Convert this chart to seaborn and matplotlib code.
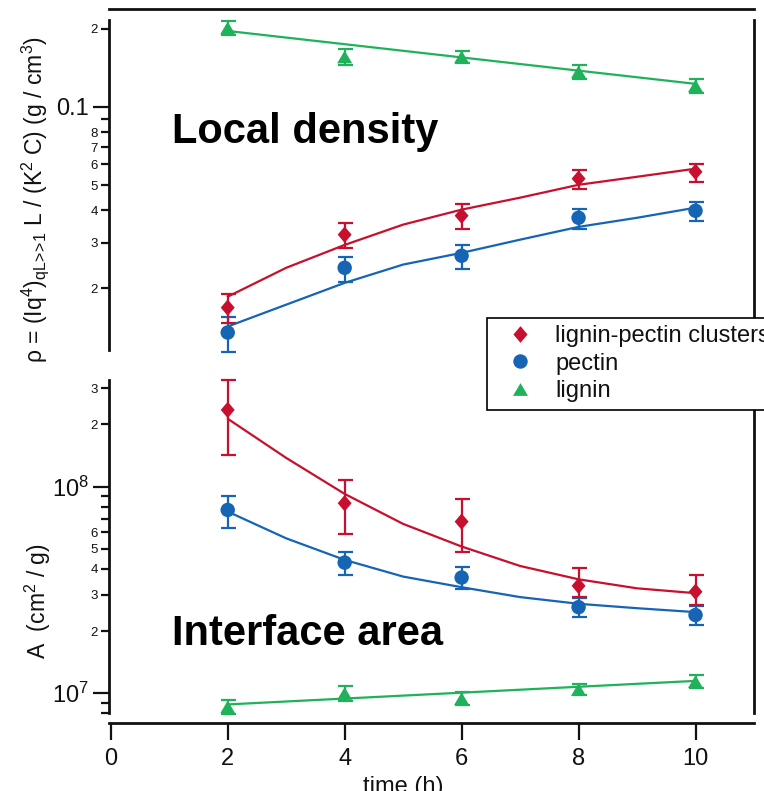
import numpy as np
import pandas as pd
import matplotlib
matplotlib.use("Agg")
import matplotlib.pyplot as plt
import seaborn as sns
from matplotlib.lines import Line2D
from matplotlib.ticker import FixedLocator, FixedFormatter, NullLocator

# ---------------- data ----------------
time_h = [2, 4, 6, 8, 10]
fit_time = [2, 3, 4, 5, 6, 7, 8, 9, 10]
lignin_fit_time = [2, 10]

# upper panel: local density rho (g/cm^3)
rho_cluster = [0.01686, 0.0322, 0.0381, 0.0529, 0.0562]
rho_cluster_hi = [0.0191, 0.0358, 0.0424, 0.0573, 0.0604]
rho_cluster_lo = [0.01476, 0.0287, 0.0340, 0.0484, 0.0515]
rho_pectin = [0.01352, 0.0240, 0.0267, 0.0374, 0.0398]
rho_pectin_hi = [0.01556, 0.0265, 0.0294, 0.0405, 0.0431]
rho_pectin_lo = [0.01142, 0.0212, 0.0238, 0.0340, 0.0365]
rho_lignin = [0.2013, 0.1557, 0.1557, 0.1364, 0.1204]
rho_lignin_hi = [0.2143, 0.167, 0.164, 0.145, 0.128]
rho_lignin_lo = [0.1891, 0.1452, 0.1478, 0.1283, 0.1132]
rho_cluster_fit = [0.01858, 0.0240, 0.0294, 0.0352, 0.0402, 0.0447, 0.0501, 0.0538, 0.0578]
rho_pectin_fit = [0.01426, 0.01731, 0.0210, 0.0247, 0.0274, 0.0308, 0.0345, 0.0374, 0.0409]
rho_lignin_fit = [0.196, 0.1226]

# lower panel: interface area A (cm^2/g)
A_cluster = [2.35e8, 8.31e7, 6.77e7, 3.31e7, 3.10e7]
A_cluster_hi = [3.28e8, 1.077e8, 8.69e7, 4.06e7, 3.74e7]
A_cluster_lo = [1.42e8, 5.88e7, 4.85e7, 2.92e7, 2.68e7]
A_pectin = [7.71e7, 4.29e7, 3.63e7, 2.61e7, 2.39e7]
A_pectin_hi = [9.04e7, 4.81e7, 4.10e7, 2.90e7, 2.65e7]
A_pectin_lo = [6.29e7, 3.74e7, 3.20e7, 2.33e7, 2.14e7]
A_lignin = [8.58e6, 9.98e6, 9.42e6, 1.043e7, 1.138e7]
A_lignin_hi = [9.28e6, 1.084e7, 1.014e7, 1.109e7, 1.227e7]
A_lignin_lo = [7.93e6, 9.19e6, 8.75e6, 9.81e6, 1.055e7]
A_cluster_fit = [2.13e8, 1.377e8, 9.22e7, 6.6e7, 5.13e7, 4.13e7, 3.56e7, 3.22e7, 3.05e7]
A_pectin_fit = [7.57e7, 5.62e7, 4.42e7, 3.67e7, 3.26e7, 2.92e7, 2.71e7, 2.58e7, 2.47e7]
A_lignin_fit = [8.83e6, 1.148e7]

series_labels = ["lignin-pectin clusters", "pectin", "lignin"]

x_ticks = [0, 2, 4, 6, 8, 10]
x_tick_labels = ["0", "2", "4", "6", "8", "10"]
upper_major_ticks = [0.1]
upper_major_labels = ["0.1"]
upper_minor_ticks = [0.02, 0.03, 0.04, 0.05, 0.06, 0.07, 0.08, 0.09, 0.2]
upper_minor_labels = ["2", "3", "4", "5", "6", "7", "8", "", "2"]
lower_major_ticks = [1e7, 1e8]
lower_major_labels = ["$10^{7}$", "$10^{8}$"]
lower_minor_ticks = [8e6, 9e6, 2e7, 3e7, 4e7, 5e7, 6e7, 7e7, 8e7, 9e7, 2e8, 3e8]
lower_minor_labels = ["", "", "2", "3", "4", "5", "6", "", "", "", "2", "3"]

# ---------------- style ----------------
sns.set_theme(style="ticks")
plt.rcParams["font.family"] = ["Liberation Sans", "DejaVu Sans"]
plt.rcParams["mathtext.fontset"] = "custom"
plt.rcParams["mathtext.rm"] = "Liberation Sans"
plt.rcParams["mathtext.it"] = "Liberation Sans:italic"
plt.rcParams["mathtext.bf"] = "Liberation Sans:bold"
plt.rcParams["mathtext.sf"] = "Liberation Sans"
plt.rcParams["mathtext.default"] = "regular"

RED = "#c8102e"
BLUE = "#1565b4"
GREEN = "#1fb25a"
TXT = "#111111"

diamond = [(0, 1.0), (0.85, 0), (0, -1.0), (-0.85, 0), (0, 1.0)]
triangle = [(0, 0.85), (1.0, -0.85), (-1.0, -0.85), (0, 0.85)]

fig = plt.figure(figsize=(7.64, 7.91), dpi=100)
W, H = 764.0, 791.0
left = 109 / W
width = (754 - 109) / W
ax_top = fig.add_axes([left, 1 - 350 / H, width, 330 / H])
ax_bot = fig.add_axes([left, 1 - 713.3 / H, width, 333.3 / H])

for ax in (ax_top, ax_bot):
    ax.set_yscale("log")
    ax.set_xlim(-0.03, 11.0)
    ax.set_facecolor("white")
    for s in ax.spines.values():
        s.set_linewidth(2.0)
        s.set_color(TXT)

ax_top.set_ylim(0.01158, 0.216)
ax_bot.set_ylim(8.0e6, 3.28e8)


def draw_series(ax, x, y, lo, hi, fx, fy, color, marker, ms):
    sns.lineplot(x=fx, y=fy, ax=ax, color=color, linewidth=1.6, zorder=2)
    yerr = [np.array(y) - np.array(lo), np.array(hi) - np.array(y)]
    ax.errorbar(x, y, yerr=yerr, fmt="none", ecolor=color, elinewidth=1.6,
                capsize=5.4, capthick=1.6, zorder=3, clip_on=False)
    sns.scatterplot(x=x, y=y, ax=ax, color=color, marker=marker, s=ms ** 2,
                    edgecolor="none", linewidth=0, zorder=4)


draw_series(ax_top, time_h, rho_lignin, rho_lignin_lo, rho_lignin_hi,
            lignin_fit_time, rho_lignin_fit, GREEN, triangle, 10.8)
draw_series(ax_top, time_h, rho_pectin, rho_pectin_lo, rho_pectin_hi,
            fit_time, rho_pectin_fit, BLUE, "o", 10.4)
draw_series(ax_top, time_h, rho_cluster, rho_cluster_lo, rho_cluster_hi,
            fit_time, rho_cluster_fit, RED, diamond, 11.8)

draw_series(ax_bot, time_h, A_lignin, A_lignin_lo, A_lignin_hi,
            lignin_fit_time, A_lignin_fit, GREEN, triangle, 10.8)
draw_series(ax_bot, time_h, A_pectin, A_pectin_lo, A_pectin_hi,
            fit_time, A_pectin_fit, BLUE, "o", 10.4)
draw_series(ax_bot, time_h, A_cluster, A_cluster_lo, A_cluster_hi,
            fit_time, A_cluster_fit, RED, diamond, 11.8)

# spines
ax_top.spines["bottom"].set_visible(False)
ax_top.spines["top"].set_position(("outward", 8))
ax_bot.spines["top"].set_visible(False)
ax_bot.spines["bottom"].set_position(("outward", 7.2))

# ticks
ax_top.tick_params(axis="x", which="both", bottom=False, top=False,
                   labelbottom=False, labeltop=False)
ax_top.xaxis.set_major_locator(NullLocator())
ax_top.xaxis.set_minor_locator(NullLocator())

ax_bot.xaxis.set_major_locator(FixedLocator(x_ticks))
ax_bot.xaxis.set_major_formatter(FixedFormatter(x_tick_labels))
ax_bot.xaxis.set_minor_locator(NullLocator())
ax_bot.tick_params(axis="x", which="major", direction="out", length=12,
                   width=1.6, labelsize=17, pad=6, colors=TXT, top=False)

for ax, mt, ml, nt, nl in ((ax_top, upper_major_ticks, upper_major_labels,
                            upper_minor_ticks, upper_minor_labels),
                           (ax_bot, lower_major_ticks, lower_major_labels,
                            lower_minor_ticks, lower_minor_labels)):
    ax.yaxis.set_major_locator(FixedLocator(mt))
    ax.yaxis.set_major_formatter(FixedFormatter(ml))
    ax.yaxis.set_minor_locator(FixedLocator(nt))
    ax.yaxis.set_minor_formatter(FixedFormatter(nl))
    ax.tick_params(axis="y", which="major", direction="out", length=11.5,
                   width=1.6, labelsize=17, pad=3, colors=TXT, right=False)
    ax.tick_params(axis="y", which="minor", direction="out", length=5.8,
                   width=1.6, labelsize=9.5, pad=2, colors=TXT, right=False)
    ax.set_xlabel("")
    ax.set_ylabel("")
    ax.grid(False)

# axis titles
fig.text(35 / W, 1 - 200 / H,
         "ρ = (Iq$^{4}$)$_{qL\\!>\\!\\!>\\!1}$ L / (K$^{2}$ C) (g / cm$^{3}$)",
         rotation=90, ha="center", va="center", fontsize=16.5, color=TXT)
fig.text(38 / W, 1 - 601 / H, "A  (cm$^{2}$ / g)",
         rotation=90, ha="center", va="center", fontsize=16.5, color=TXT)
fig.text(403 / W, 1 - 793 / H, "time (h)", ha="center", va="baseline",
         fontsize=17, color=TXT)

# panel annotations
fig.text(172 / W, 1 - 143 / H, "Local density", ha="left", va="baseline",
         fontsize=30, fontweight="bold", color="black")
fig.text(172 / W, 1 - 645 / H, "Interface area", ha="left", va="baseline",
         fontsize=30, fontweight="bold", color="black")

# legend
handles = [
    Line2D([], [], linestyle="none", marker=diamond, markersize=12,
           color=RED, markeredgewidth=0),
    Line2D([], [], linestyle="none", marker="o", markersize=10.4,
           color=BLUE, markeredgewidth=0),
    Line2D([], [], linestyle="none", marker=triangle, markersize=10.8,
           color=GREEN, markeredgewidth=0),
]
leg = fig.legend(handles, series_labels, loc="upper left",
                 bbox_to_anchor=(487 / W, 1 - 318 / H), frameon=True,
                 fancybox=False, edgecolor="black", facecolor="white",
                 framealpha=1.0, fontsize=17, borderpad=0.3,
                 handlelength=2.2, handletextpad=0.4, labelspacing=0.24,
                 borderaxespad=0.0)
leg.get_frame().set_linewidth(1.2)
for t in leg.get_texts():
    t.set_color(TXT)

fig.savefig("out.png", dpi=100, facecolor="white")
